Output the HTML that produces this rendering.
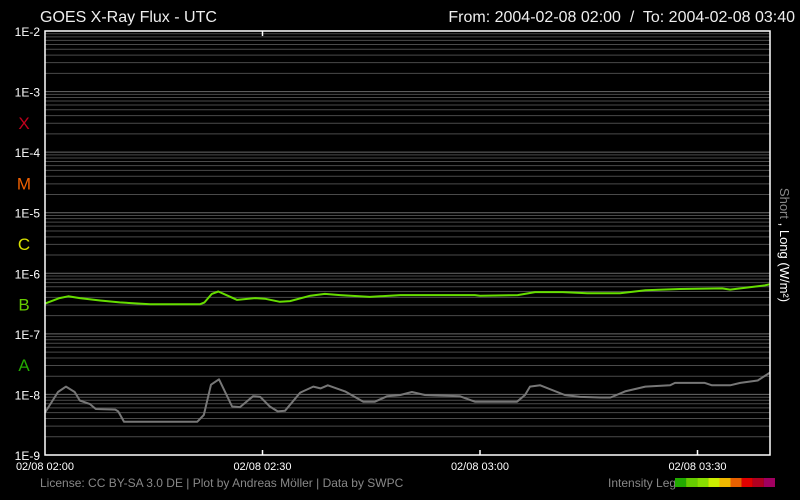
<!DOCTYPE html>
<html><head><meta charset="utf-8"><style>
html,body{margin:0;padding:0;background:#000;}
svg{display:block;font-family:"Liberation Sans",sans-serif;}
</style></head><body>
<svg id="chart" width="800" height="500" viewBox="0 0 800 500">
<rect x="0" y="0" width="800" height="500" fill="#000"/>
<text x="40" y="22" fill="#eee" font-size="16">GOES X-Ray Flux - UTC</text>
<text x="795" y="22" fill="#eee" font-size="16" text-anchor="end" xml:space="preserve">From: 2004-02-08 02:00  /  To: 2004-02-08 03:40</text>
<g id="grid"></g>
<g id="yticks"></g>
<g id="classes"></g>
<g id="series"></g>
<g id="xticks"></g>
<rect x="45" y="31" width="725" height="424" fill="none" stroke="#fff" stroke-width="1.5"/>
<text transform="translate(780,245) rotate(90)" text-anchor="middle" font-size="13" fill="#fff"><tspan fill="#888">Short</tspan> , Long (W/m²)</text>
<text x="40" y="487" fill="#888" font-size="12">License: CC BY-SA 3.0 DE | Plot by Andreas Möller | Data by SWPC</text>
<text x="608" y="487" fill="#888" font-size="12">Intensity Legend</text>
<g id="legend"></g>
</svg>
<script>
const yTickLabels = ["1E-2","1E-3","1E-4","1E-5","1E-6","1E-7","1E-8","1E-9"];
const classLetters = ["X","M","C","B","A"];
const classColors = ["#c0001c","#f06000","#d8e000","#66cc00","#22aa00"];
const xTickLabels = ["02/08 02:00","02/08 02:30","02/08 03:00","02/08 03:30"];
const xTickMinutes = [0,30,60,90];
const legendColors = ["#22aa00","#66cc00","#88dd00","#ccee00","#f0b800","#e86000","#e00000","#b00020","#a00060"];
// long channel (log10 W/m2) vs minutes since 02:00
const longMinutes = [0,2,3.2,4.8,7.6,10.3,14.5,21.4,22,23,23.9,25.2,26.5,29,30.3,32.4,33.8,36.6,38.6,40.7,44.8,49,59.3,60,65.2,67.6,71.4,74.8,79.3,82.8,87.6,93.4,94.5,96.6,99.3,100];
const longLog = [-6.50,-6.41,-6.38,-6.41,-6.45,-6.48,-6.51,-6.51,-6.48,-6.34,-6.30,-6.37,-6.44,-6.41,-6.42,-6.47,-6.46,-6.37,-6.34,-6.36,-6.39,-6.36,-6.36,-6.37,-6.36,-6.31,-6.31,-6.33,-6.33,-6.28,-6.26,-6.25,-6.27,-6.24,-6.20,-6.18];
// short channel
const shortMinutes = [0,1.8,2.9,4.1,4.8,6.2,7,9.7,10.1,10.9,21,21.9,22.9,24,25.8,26.9,28.7,29.7,31,32.1,33.1,35.2,37,38,39,41.4,43.9,45.5,47.2,49,50.6,52.4,57.2,59.3,65.1,66.2,66.9,68.3,71.7,73.8,76.6,78,80,82.8,86.2,86.9,91,92,94.5,95.9,98.3,100];
const shortLog = [-8.30,-7.96,-7.87,-7.96,-8.10,-8.16,-8.24,-8.25,-8.28,-8.45,-8.45,-8.34,-7.84,-7.75,-8.20,-8.21,-8.03,-8.04,-8.20,-8.28,-8.27,-7.97,-7.87,-7.90,-7.85,-7.95,-8.12,-8.12,-8.03,-8.01,-7.96,-8.01,-8.03,-8.12,-8.12,-8.01,-7.87,-7.85,-8.01,-8.04,-8.05,-8.05,-7.95,-7.87,-7.85,-7.81,-7.81,-7.85,-7.85,-7.81,-7.77,-7.64];

const NS="http://www.w3.org/2000/svg";
const X0=45,X1=770,Y0=31,Y1=455,TMAX=100,LTOP=-2,LBOT=-9;
const xs=t=>X0+(t/TMAX)*(X1-X0);
const ys=l=>Y0+(LTOP-l)/(LTOP-LBOT)*(Y1-Y0);
function mk(tag,attrs,parent){const e=document.createElementNS(NS,tag);for(const k in attrs)e.setAttribute(k,attrs[k]);parent.appendChild(e);return e;}

const grid=document.getElementById('grid');
for(let d=LBOT;d<LTOP;d++){for(let k=1;k<=9;k++){
  if(d===LBOT&&k===1)continue;
  const y=ys(d+Math.log10(k));
  const l=mk('line',{x1:X0,x2:X1,y1:y,y2:y,stroke:k===1?'#6a6a6a':'#4a4a4a','stroke-width':1},grid);
  
  
}}
const yt=document.getElementById('yticks');
yTickLabels.forEach((s,i)=>{
  const t=mk('text',{x:40,y:ys(LTOP-i)+5,fill:'#fff','font-size':12,'text-anchor':'end'},yt);
  t.textContent=s;
  
  
});
const cl=document.getElementById('classes');
classLetters.forEach((s,i)=>{
  const t=mk('text',{x:24,y:ys(-3.5-i)+7,fill:classColors[i],'font-size':17,'text-anchor':'middle'},cl);
  t.textContent=s;
  
  
});
const xt=document.getElementById('xticks');
xTickLabels.forEach((s,i)=>{
  const x=xs(xTickMinutes[i]);
  if(i>0){const l=mk('line',{x1:x,x2:x,y1:Y1,y2:Y1-5,stroke:'#fff','stroke-width':1.5},xt);
    
    }
  const t=mk('text',{x:x,y:470,fill:'#fff','font-size':11,'text-anchor':'middle'},xt);
  t.textContent=s;
  
  
});
const tt=mk('line',{x1:xs(30),x2:xs(30),y1:Y0,y2:Y0+5,stroke:'#fff','stroke-width':1.5},xt);



const ser=document.getElementById('series');
function line(ts,ls,color,name){
  const p=mk('polyline',{points:ts.map((t,i)=>xs(t).toFixed(1)+','+ys(ls[i]).toFixed(1)).join(' '),fill:'none',stroke:color,'stroke-width':2,'stroke-linejoin':'round'},ser);
  
  
}
line(shortMinutes,shortLog,'#777','short-flux-line');
line(longMinutes,longLog,'#66dd00','long-flux-line');

const lg=document.getElementById('legend');
legendColors.forEach((c,i)=>{
  const r=mk('rect',{x:675+i*11.1,y:478,width:11.2,height:9,fill:c},lg);
  
  
});
</script>
</body></html>
